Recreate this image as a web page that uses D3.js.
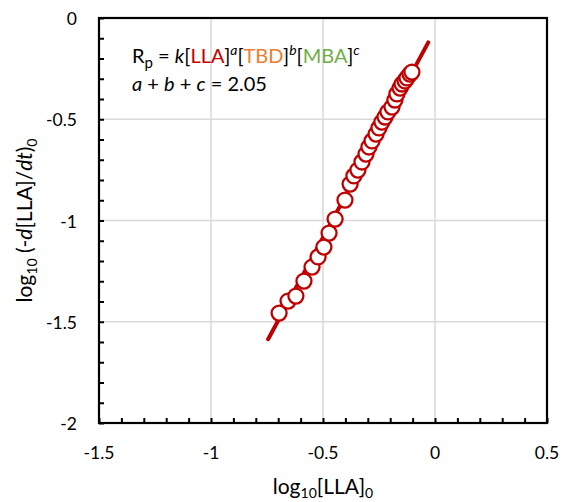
<!DOCTYPE html>
<html lang="en">
<head>
    <meta charset="UTF-8">
    <title>log-log rate plot</title>
    <script src="https://d3js.org/d3.v7.min.js"></script>
    <style>
        body { margin: 0; background: #fff; }
        text { font-family: Lato, "Open Sans", sans-serif; }
    </style>
</head>
<body>
    <div id="chart"></div>
    <script>
        // log10[LLA]0 and log10(-d[LLA]/dt)0
        var logLLA = [-0.696, -0.656, -0.621, -0.585, -0.549, -0.522, -0.496, -0.473, -0.446,
                      -0.402, -0.379, -0.362, -0.344, -0.326, -0.308, -0.295, -0.281, -0.263,
                      -0.250, -0.237, -0.223, -0.210, -0.192, -0.179, -0.170, -0.156, -0.147,
                      -0.134, -0.125, -0.112, -0.103];
        var logRate = [-1.457, -1.398, -1.373, -1.299, -1.230, -1.180, -1.131, -1.062, -0.993,
                       -0.899, -0.820, -0.780, -0.751, -0.711, -0.672, -0.637, -0.607, -0.573,
                       -0.543, -0.514, -0.489, -0.464, -0.440, -0.405, -0.375, -0.346, -0.326,
                       -0.311, -0.296, -0.277, -0.267];

        // linear fit: slope = a + b + c
        var fitRange = [-0.745, -0.03];
        var fitSlope = 2.05;
        var fitIntercept = -0.059;

        var xTicks = [-1.5, -1, -0.5, 0, 0.5];
        var yTicks = [0, -0.5, -1, -1.5, -2];

        var margin = {top: 18, right: 16, bottom: 79, left: 99};
        var width = 563 - margin.left - margin.right;
        var height = 502 - margin.top - margin.bottom;

        var svg = d3.select("#chart").append("svg")
            .attr("width", 563)
            .attr("height", 502);
        var g = svg.append("g")
            .attr("transform", "translate(" + margin.left + "," + margin.top + ")");

        var x = d3.scaleLinear().domain([-1.5, 0.5]).range([0, width]);
        var y = d3.scaleLinear().domain([-2, 0]).range([height, 0]);

        // grid
        g.selectAll(".vgrid").data(xTicks.slice(1, -1)).enter().append("line")
            .attr("x1", d => x(d)).attr("x2", d => x(d))
            .attr("y1", 0).attr("y2", height)
            .attr("stroke", "#d9d9d9").attr("stroke-width", 1.5);
        g.selectAll(".hgrid").data(yTicks.slice(1, -1)).enter().append("line")
            .attr("y1", d => y(d)).attr("y2", d => y(d))
            .attr("x1", 0).attr("x2", width)
            .attr("stroke", "#d9d9d9").attr("stroke-width", 1.5);

        // minor ticks every 0.1, pointing inside
        var xMinor = d3.range(-15, 6).map(d => d / 10);
        var yMinor = d3.range(-20, 1).map(d => d / 10);
        g.append("g")
            .attr("transform", "translate(0," + height + ")")
            .call(d3.axisBottom(x).tickValues(xMinor).tickSize(-5).tickFormat(""))
            .call(a => a.select(".domain").remove())
            .selectAll("line").attr("stroke", "#000").attr("stroke-width", 2);
        g.append("g")
            .call(d3.axisLeft(y).tickValues(yMinor).tickSize(-5).tickFormat(""))
            .call(a => a.select(".domain").remove())
            .selectAll("line").attr("stroke", "#000").attr("stroke-width", 2);

        // frame
        g.append("rect")
            .attr("width", width).attr("height", height)
            .attr("fill", "none").attr("stroke", "#000").attr("stroke-width", 2.2);

        // tick labels
        g.selectAll(".xl").data(xTicks).enter().append("text")
            .attr("x", d => x(d)).attr("y", height + 36)
            .attr("text-anchor", "middle")
            .attr("font-size", 17.5)
            .text(d => String(d));
        g.selectAll(".yl").data(yTicks).enter().append("text")
            .attr("x", -22).attr("y", d => y(d) + 7)
            .attr("text-anchor", "end")
            .attr("font-size", 17.5)
            .text(d => String(d));

        // fit line
        var line = d3.line().x(d => x(d)).y(d => y(fitSlope * d + fitIntercept));
        g.append("path")
            .datum(fitRange)
            .attr("d", line)
            .attr("stroke", "#c00000").attr("stroke-width", 4)
            .attr("stroke-linecap", "round")
            .attr("fill", "none");

        // points
        g.selectAll(".pt").data(logLLA).enter().append("circle")
            .attr("cx", d => x(d))
            .attr("cy", (d, i) => y(logRate[i]))
            .attr("r", 7.5)
            .attr("fill", "#fff")
            .attr("stroke", "#c00000")
            .attr("stroke-width", 2.3);

        // rate law annotation
        var t1 = g.append("text").attr("x", 33).attr("y", 45).attr("font-size", 20);
        t1.append("tspan").text("R");
        t1.append("tspan").attr("dy", 5).attr("font-size", 15).text("p");
        t1.append("tspan").attr("dy", -5).text(" = ");
        t1.append("tspan").attr("font-style", "italic").text("k");
        t1.append("tspan").text("[");
        t1.append("tspan").attr("fill", "#c00000").text("LLA");
        t1.append("tspan").text("]");
        t1.append("tspan").attr("dy", -8).attr("font-size", 14).attr("font-style", "italic").text("a");
        t1.append("tspan").attr("dy", 8).text("[");
        t1.append("tspan").attr("fill", "#ed7d31").text("TBD");
        t1.append("tspan").text("]");
        t1.append("tspan").attr("dy", -8).attr("font-size", 14).attr("font-style", "italic").text("b");
        t1.append("tspan").attr("dy", 8).text("[");
        t1.append("tspan").attr("fill", "#70ad47").text("MBA");
        t1.append("tspan").text("]");
        t1.append("tspan").attr("dy", -8).attr("font-size", 14).attr("font-style", "italic").text("c");

        var t2 = g.append("text").attr("x", 33).attr("y", 73).attr("font-size", 20);
        t2.append("tspan").attr("font-style", "italic").text("a");
        t2.append("tspan").text(" + ");
        t2.append("tspan").attr("font-style", "italic").text("b");
        t2.append("tspan").text(" + ");
        t2.append("tspan").attr("font-style", "italic").text("c");
        t2.append("tspan").text(" = 2.05");

        // axis titles
        var xt = svg.append("text")
            .attr("x", margin.left + width / 2).attr("y", 494)
            .attr("text-anchor", "middle").attr("font-size", 21);
        xt.append("tspan").text("log");
        xt.append("tspan").attr("dy", 4).attr("font-size", 14).text("10");
        xt.append("tspan").attr("dy", -4).text("[LLA]");
        xt.append("tspan").attr("dy", 4).attr("font-size", 14).text("0");

        var yt = svg.append("text")
            .attr("transform", "translate(32," + (margin.top + height / 2) + ") rotate(-90)")
            .attr("text-anchor", "middle").attr("font-size", 21);
        yt.append("tspan").text("log");
        yt.append("tspan").attr("dy", 5).attr("font-size", 14).text("10");
        yt.append("tspan").attr("dy", -5).text(" (-");
        yt.append("tspan").attr("font-style", "italic").text("d");
        yt.append("tspan").text("[LLA]/");
        yt.append("tspan").attr("font-style", "italic").text("dt");
        yt.append("tspan").text(")");
        yt.append("tspan").attr("dy", 5).attr("font-size", 14).text("0");
    </script>
</body>
</html>
